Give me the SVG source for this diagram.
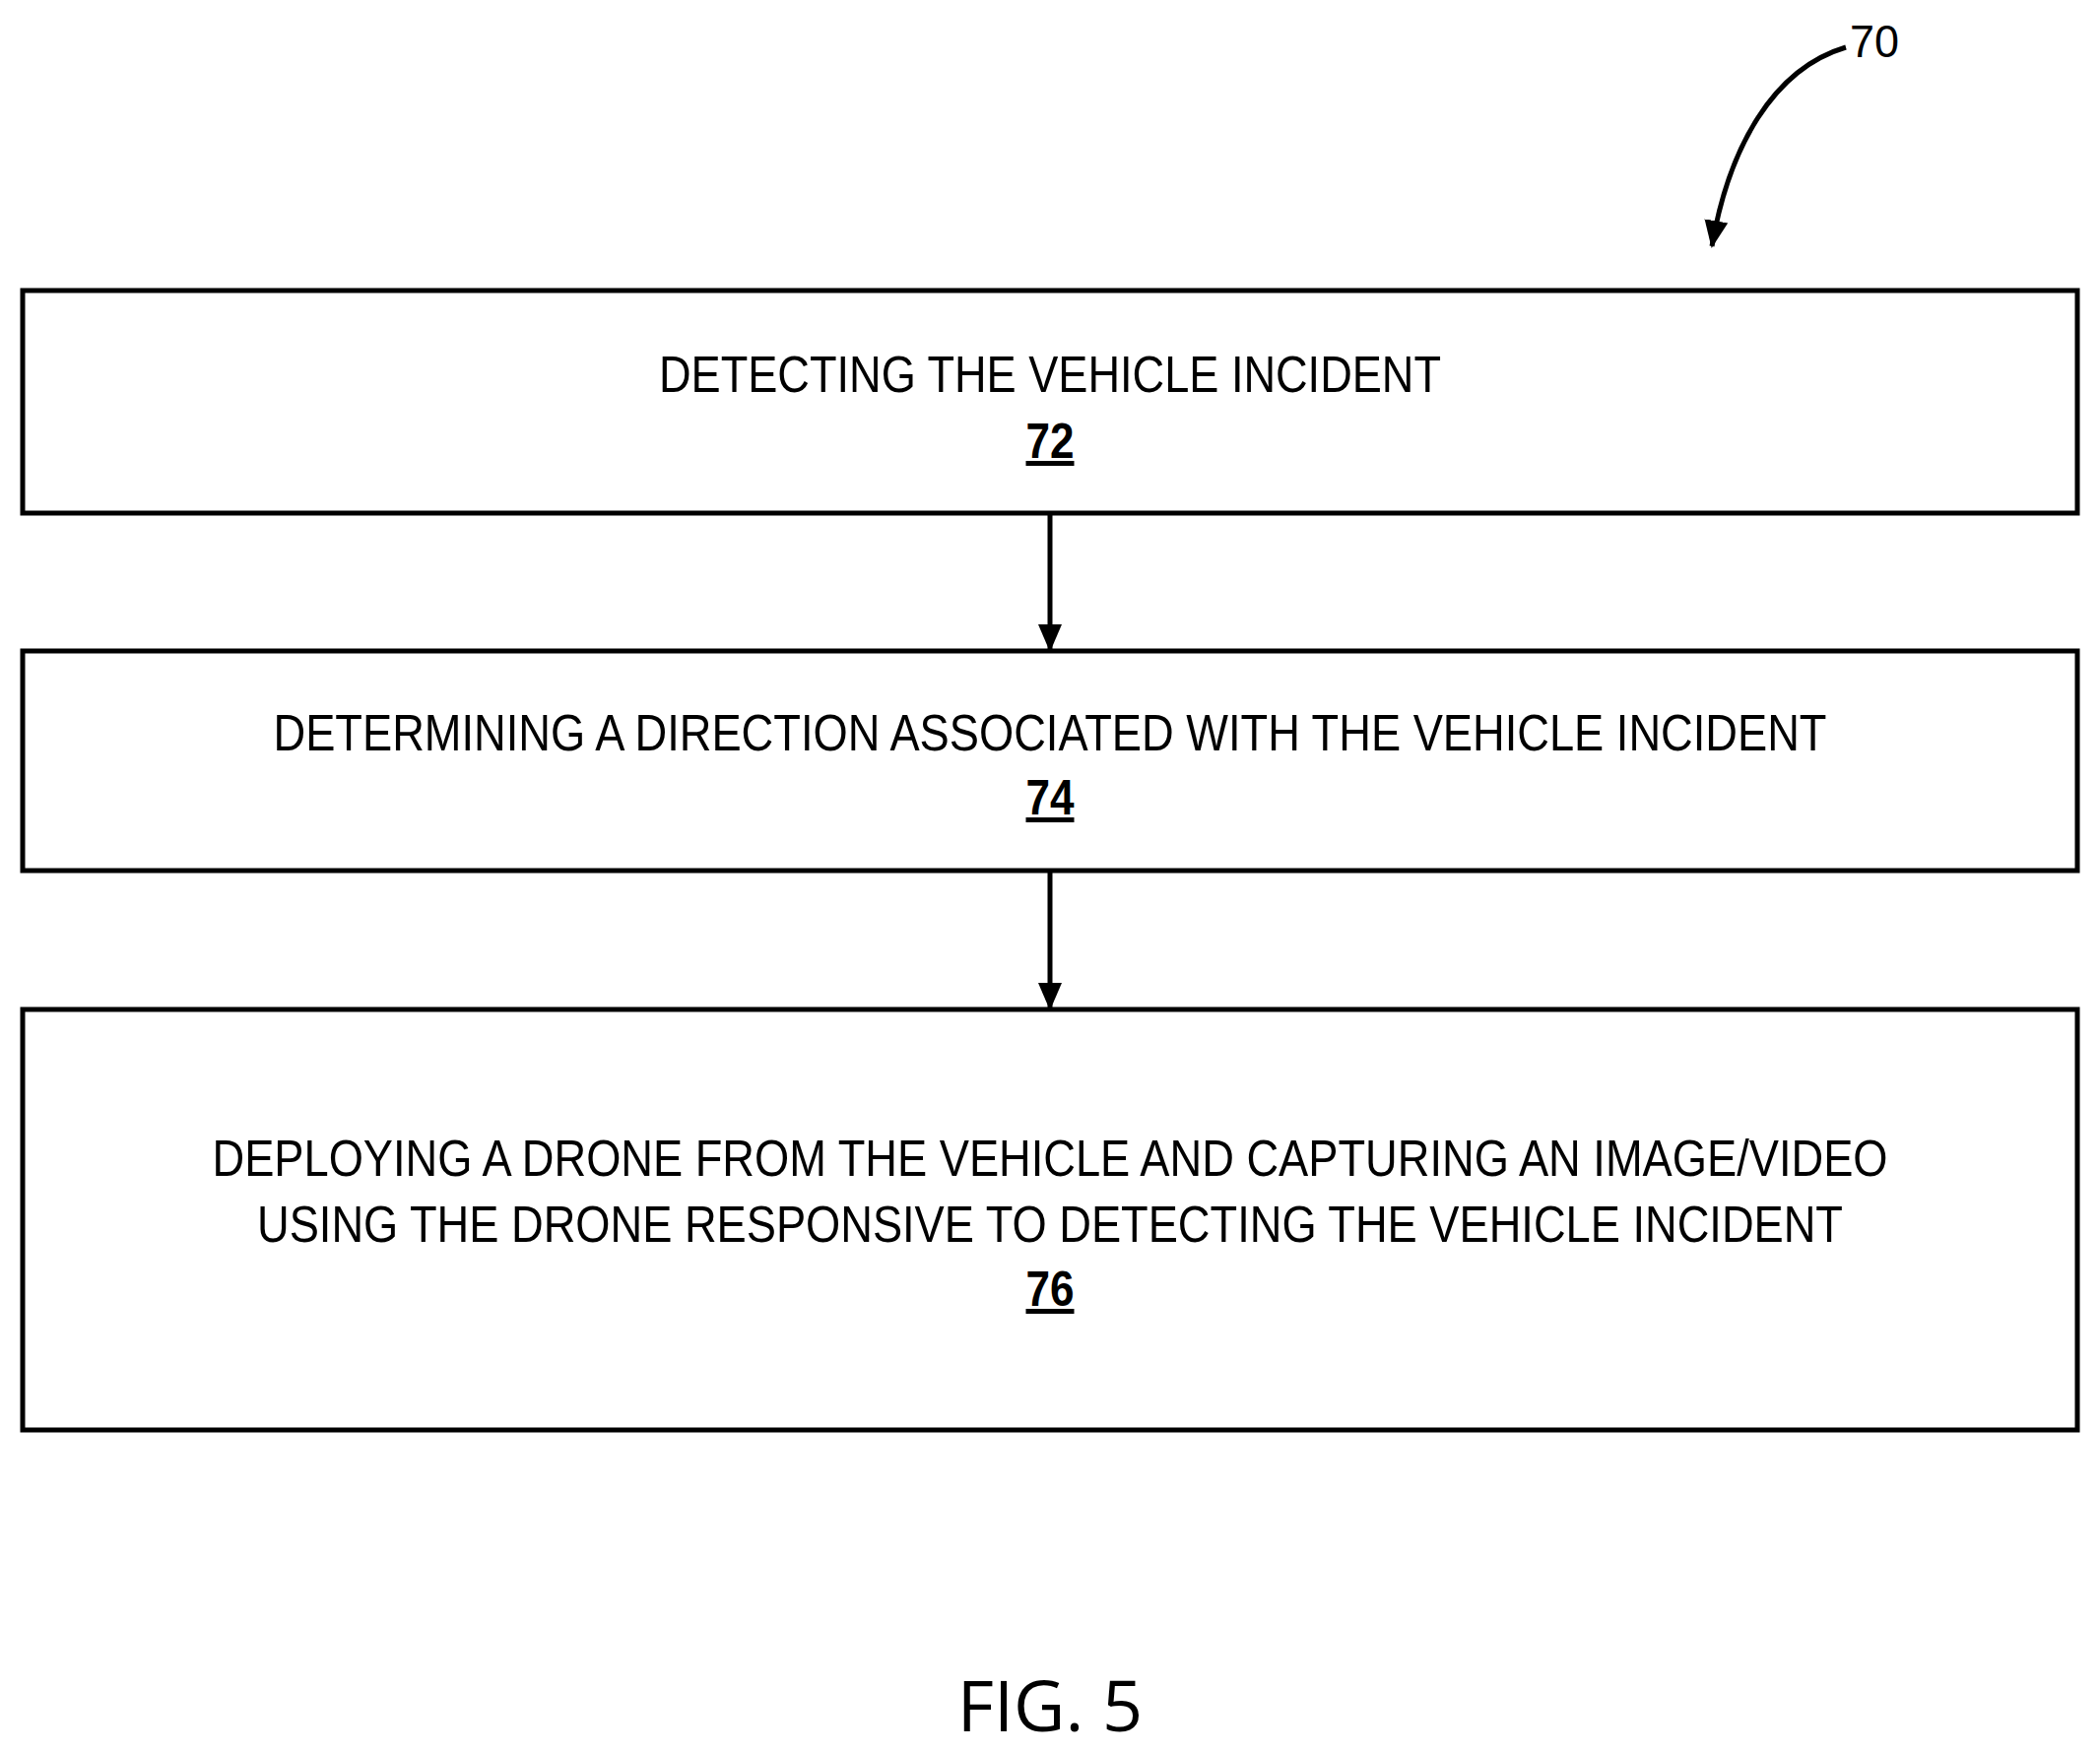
<svg xmlns="http://www.w3.org/2000/svg" width="2132" height="1779" viewBox="0 0 2132 1779">
<style>
.box{fill:#fff;stroke:#000;stroke-width:5}
.t{font-family:"Liberation Sans",Arial,sans-serif;font-size:52px;text-anchor:middle}
.n{font-family:"Liberation Sans",Arial,sans-serif;font-size:50px;font-weight:bold;text-anchor:middle;text-decoration:underline}
.c{stroke:#000;stroke-width:5;fill:none}
</style>
<defs><marker id="ah" markerWidth="10" markerHeight="10" refX="8" refY="5" orient="auto" markerUnits="userSpaceOnUse" viewBox="0 0 10 10"><path d="M0,0 L10,5 L0,10 z"/></marker>
<marker id="ah2" markerWidth="28" markerHeight="28" refX="26" refY="14" orient="auto" markerUnits="userSpaceOnUse"><path d="M0,2 L28,14 L0,26 z"/></marker></defs>
<rect width="2132" height="1779" fill="#fff"/>
<g id="node72"><rect class="box" x="23" y="295" width="2086" height="226"/>
<text class="t" x="1066" y="398" textLength="794" lengthAdjust="spacingAndGlyphs">DETECTING THE VEHICLE INCIDENT</text>
<text class="n" x="1066" y="465" textLength="49" lengthAdjust="spacingAndGlyphs">72</text></g>
<g id="node74"><rect class="box" x="23" y="661" width="2086" height="223"/>
<text class="t" x="1066" y="762" textLength="1577" lengthAdjust="spacingAndGlyphs">DETERMINING A DIRECTION ASSOCIATED WITH THE VEHICLE INCIDENT</text>
<text class="n" x="1066" y="827" textLength="49" lengthAdjust="spacingAndGlyphs">74</text></g>
<g id="node76"><rect class="box" x="23" y="1025" width="2086" height="427"/>
<text class="t" x="1066" y="1194" textLength="1701" lengthAdjust="spacingAndGlyphs">DEPLOYING A DRONE FROM THE VEHICLE AND CAPTURING AN IMAGE/VIDEO</text>
<text class="t" x="1066" y="1261" textLength="1610" lengthAdjust="spacingAndGlyphs">USING THE DRONE RESPONSIVE TO DETECTING THE VEHICLE INCIDENT</text>
<text class="n" x="1066" y="1326" textLength="49" lengthAdjust="spacingAndGlyphs">76</text></g>
<g id="connectors">
<line class="c" x1="1066" y1="521" x2="1066" y2="660" marker-end="url(#ah2)"/>
<line class="c" x1="1066" y1="884" x2="1066" y2="1024" marker-end="url(#ah2)"/>
<path class="c" d="M1874,48 C1800,70 1755,150 1738,250" marker-end="url(#ah2)"/>
</g>
<text x="1903" y="58" style="font-family:'Liberation Sans',Arial,sans-serif;font-size:46px" text-anchor="middle" textLength="50" lengthAdjust="spacingAndGlyphs">70</text>
<text x="1066" y="1758" style="font-family:'Open Sans',sans-serif;font-size:72px" text-anchor="middle">FIG. 5</text>
</svg>
